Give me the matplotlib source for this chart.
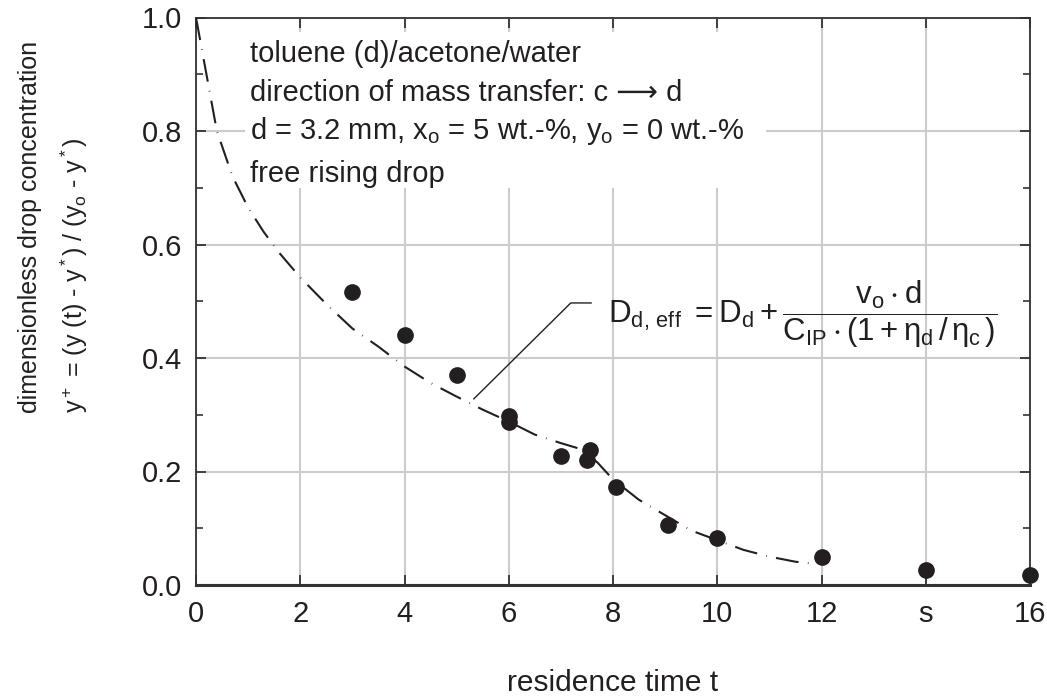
import matplotlib
matplotlib.use("Agg")
import matplotlib.pyplot as plt
from matplotlib.patches import Rectangle
from matplotlib.ticker import MultipleLocator

# ---- data ----
t_meas = [3.0, 4.0, 5.0, 6.0, 6.0, 7.0, 7.55, 7.5, 8.05, 9.05, 10.0, 12.0, 14.0, 16.0]
y_meas = [0.517, 0.440, 0.370, 0.298, 0.287, 0.228, 0.238, 0.220, 0.172, 0.106, 0.083, 0.049, 0.027, 0.018]

t_model = [0.0, 0.2, 0.4, 0.7, 1.0, 1.3, 1.6, 2.0, 2.5, 3.0, 3.5, 4.0, 4.5, 5.0, 5.5,
           6.0, 6.5, 7.0, 7.4, 7.7, 8.0, 8.5, 9.0, 9.5, 10.0, 10.5, 11.0, 11.5, 11.9]
y_model = [1.0, 0.90, 0.80, 0.72, 0.665, 0.622, 0.585, 0.542, 0.495, 0.452, 0.42, 0.385,
           0.356, 0.332, 0.309, 0.288, 0.265, 0.25, 0.239, 0.216, 0.186, 0.150, 0.123,
           0.096, 0.079, 0.062, 0.050, 0.041, 0.037]

x_ticks = [0, 2, 4, 6, 8, 10, 12, 14, 16]
x_ticklabels = ["0", "2", "4", "6", "8", "10", "12", "s", "16"]
y_ticks = [0.0, 0.2, 0.4, 0.6, 0.8, 1.0]
y_ticklabels = ["0.0", "0.2", "0.4", "0.6", "0.8", "1.0"]

info_lines = [
    "toluene (d)/acetone/water",
    "direction of mass transfer: c \u27f6 d",
    r"d = 3.2 mm, x$_\mathregular{o}$ = 5 wt.-%, y$_\mathregular{o}$ = 0 wt.-%",
    "free rising drop",
]
formula = (r"$\mathregular{D_{d,\,eff}\ =D_d+\dfrac{v_o\cdot d}"
           r"{C_{IP}\cdot(1+\eta_d\,/\,\eta_c\,)}}$")
ylabel1 = "dimensionless drop concentration"
ylabel2 = r"y$^+$ = (y (t) - y$^*$) / (y$_\mathregular{o}$ - y$^*$)"
xlabel = "residence time t"

# ---- style ----
plt.rcParams['font.family'] = ['Liberation Sans', 'DejaVu Sans']
plt.rcParams['mathtext.fontset'] = 'custom'
plt.rcParams['mathtext.rm'] = 'Liberation Sans'
plt.rcParams['mathtext.it'] = 'Liberation Sans'
plt.rcParams['mathtext.bf'] = 'Liberation Sans'
plt.rcParams['mathtext.sf'] = 'Liberation Sans'
ink = '#231f20'
FS = 21

fig = plt.figure(figsize=(10.47, 7.0), dpi=100)
ax = fig.add_axes([196/1047, 1-585/700, (1030-196)/1047, (585-17.5)/700])

ax.set_xlim(0, 16)
ax.set_ylim(0, 1.0)
ax.set_xticks(x_ticks)
ax.set_xticklabels(x_ticklabels)
ax.set_yticks(y_ticks)
ax.set_yticklabels(y_ticklabels)
ax.yaxis.set_minor_locator(MultipleLocator(0.1))

ax.set_axisbelow(True)
ax.grid(True, which='major', color='#cccccc', lw=1.5)

ax.tick_params(which='both', direction='in', top=True, right=True, colors='#333333',
               labelcolor=ink, labelsize=FS)
ax.tick_params(which='major', length=7, width=1.3)
ax.tick_params(which='minor', length=5, width=1.2)
ax.tick_params(axis='y', pad=10)
ax.tick_params(axis='x', pad=11)
for s in ax.spines.values():
    s.set_color('#333333')
    s.set_linewidth(1.3)
ax.spines['bottom'].set_linewidth(2.2)

# white block behind the information text
ax.add_patch(Rectangle((0.94, 0.70), 10.0, 0.275, facecolor='white', edgecolor='none', zorder=1))

ax.plot(t_model, y_model, color=ink, lw=1.5, linestyle=(0, (11, 4.5, 0.3, 4.5)), zorder=3)
ax.plot(t_meas, y_meas, 'o', color=ink, markersize=11, zorder=4, clip_on=False)

baselines = [0.922, 0.853, 0.786, 0.711]
for txt, yb in zip(info_lines, baselines):
    ax.text(1.04, yb, txt, fontsize=FS, color=ink, va='baseline', ha='left', zorder=5)

ax.plot([5.33, 7.19, 7.58], [0.328, 0.497, 0.497], color=ink, lw=1.0, zorder=3)
ax.text(7.9, 0.478, formula, fontsize=22.5, color=ink, va='center', ha='left', zorder=5)

fig.text(30/1047, 1-413/700, ylabel1, rotation=90, ha='center', va='bottom', fontsize=18, color=ink)
fig.text(74/1047, 1-413/700, ylabel2, rotation=90, ha='center', va='bottom', fontsize=18, color=ink)
fig.text(613/1047, 1-683/700, xlabel, ha='center', va='center', fontsize=21.5, color=ink)

fig.savefig("out.png", dpi=100)
